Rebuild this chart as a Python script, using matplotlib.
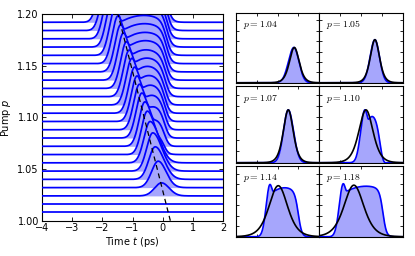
import numpy as np
import matplotlib
matplotlib.use('Agg')
import matplotlib.pyplot as plt

# ---------------- waterfall data (left panel) ----------------
pump_levels = [1.008, 1.016, 1.024, 1.032, 1.040, 1.048, 1.056, 1.064,
               1.072, 1.080, 1.088, 1.096, 1.104, 1.112, 1.120, 1.128,
               1.136, 1.144, 1.152, 1.160, 1.168, 1.176, 1.184, 1.192]
peak_height = [0.0, 0.0, 0.0126, 0.0256, 0.0315, 0.037, 0.040, 0.042,
               0.043, 0.0435, 0.044, 0.044, 0.0445, 0.045, 0.045, 0.045,
               0.0455, 0.0455, 0.046, 0.046, 0.046, 0.046, 0.046, 0.046]
peak_time = [0.0, 0.0, -0.04, -0.15, -0.25, -0.33, -0.42, -0.51,
             -0.59, -0.69, -0.77, -0.85, -0.93, -1.02, -1.11, -1.20,
             -1.30, -1.39, -1.48, -1.57, -1.67, -1.76, -1.85, -1.95]
rise_width = [0.22, 0.22, 0.23, 0.22, 0.21, 0.20, 0.20, 0.19,
              0.19, 0.19, 0.19, 0.19, 0.19, 0.19, 0.19, 0.19,
              0.19, 0.19, 0.19, 0.19, 0.19, 0.19, 0.19, 0.19]
fall_width = [0.25, 0.25, 0.25, 0.26, 0.29, 0.30, 0.30, 0.27,
              0.25, 0.23, 0.21, 0.20, 0.20, 0.20, 0.20, 0.20,
              0.20, 0.20, 0.20, 0.20, 0.20, 0.20, 0.20, 0.20]
plateau_level = [0, 0, 0, 0, 0, 0, 0, 0.45,
                 0.60, 0.70, 0.76, 0.80, 0.82, 0.83, 0.83, 0.83,
                 0.84, 0.84, 0.84, 0.84, 0.84, 0.84, 0.84, 0.84]
hump_time = [0, 0, 0, 0, 0, 0, 0, -0.20,
             -0.25, -0.30, -0.35, -0.40, -0.45, -0.50, -0.52, -0.55,
             -0.57, -0.58, -0.60, -0.62, -0.64, -0.66, -0.68, -0.70]
edge_time = [0, 0, 0, 0, 0, 0, 0, 0.06,
             0.08, 0.09, 0.10, 0.10, 0.10, 0.11, 0.11, 0.12,
             0.12, 0.12, 0.13, 0.13, 0.14, 0.14, 0.15, 0.15]
hump_curv = 0.25

# dashed guide line (pump, time)
guide_pump = [1.00, 1.20]
guide_time = [0.25, -1.48]

# ---------------- individual pulses (right panels) ----------------
panel_pump = [1.04, 1.05, 1.07, 1.10, 1.14, 1.18]
panel_height = [0.68, 0.83, 0.93, 0.93, 0.97, 0.98]
panel_peak_time = [-0.22, -0.33, -0.49, -0.81, -1.37, -1.85]
panel_rise = [0.26, 0.23, 0.23, 0.20, 0.18, 0.19]
panel_fall = [0.24, 0.22, 0.25, 0.20, 0.18, 0.18]
panel_plateau = [0, 0, 0, 0.88, 0.96, 0.98]
panel_hump_time = [0, 0, 0, -0.45, -0.65, -0.75]
panel_edge_time = [0, 0, 0, -0.03, 0.00, 0.06]
panel_curv = [0, 0, 0, 0.35, 0.14, 0.14]
fit_center = [-0.20, -0.33, -0.49, -0.76, -0.97, -1.34]
fit_height = [0.68, 0.83, 0.93, 0.93, 0.97, 0.98]
fit_fwhm = [0.55, 0.52, 0.56, 0.80, 1.05, 1.12]

LINE = '#0000ff'
FILL = '#a6a6fc'


def pulse(t, h, tp, sl, sr, plat, th, te, curv, wf=0.085):
    gl = np.exp(-0.5 * ((t - tp) / sl) ** 2)
    gr = np.exp(-0.5 * ((t - tp) / sr) ** 2)
    g = np.where(t < tp, gl, gr)
    if plat > 0:
        span = max(th - tp, 0.3)
        shape = np.clip(1 - curv * ((t - th) / span) ** 2, 0, None)
        fall = 1.0 / (1.0 + np.exp((t - te) / wf))
        P = plat * shape * fall * np.where(t < tp, gl, 1.0)
        f = (g ** 8 + P ** 8) ** (1 / 8)
    else:
        f = g
    return h * f


fig = plt.figure(figsize=(4.15, 2.56), dpi=100)

# ---- left waterfall ----
ax = fig.add_axes([41.7 / 415, 1 - 220.7 / 256, (223.3 - 41.7) / 415, (220.7 - 14) / 256])
t = np.linspace(-4, 2, 900)
n = len(pump_levels)
for k in range(n - 1, -1, -1):
    b = pump_levels[k]
    y = b + pulse(t, peak_height[k], peak_time[k], rise_width[k], fall_width[k],
                  plateau_level[k], hump_time[k], edge_time[k], hump_curv)
    z = 2 + (n - k) * 0.1
    ax.fill_between(t, b, y, color=FILL, lw=0, zorder=z)
    ax.plot(t, y, color=LINE, lw=1.25, zorder=z + 0.05)
ax.plot(guide_time, guide_pump, color='black', lw=0.9, ls=(0, (4, 3)), zorder=10)
ax.set_xlim(-4, 2)
ax.set_ylim(1.00, 1.20)
ax.set_xticks([-4, -3, -2, -1, 0, 1, 2])
ax.set_yticks([1.00, 1.05, 1.10, 1.15, 1.20])
ax.set_yticklabels(['1.00', '1.05', '1.10', '1.15', '1.20'])
ax.tick_params(direction='in', top=True, right=True, labelsize=7, length=3, width=0.6, pad=2)
ax.set_xlabel('Time $t$ (ps)', fontsize=7, labelpad=1)
ax.set_ylabel('Pump $p$', fontsize=7, labelpad=3)
for s in ax.spines.values():
    s.set_linewidth(0.8)

# ---- right panels ----
tp_ = np.linspace(-3, 1, 500)
col_x = [236 / 415, 319.3 / 415]
col_w = 83.3 / 415
rows = [(12.7, 83.3), (86.0, 163.3), (165.7, 237.3)]
for i in range(6):
    r, c = divmod(i, 2)
    top, bot = rows[r]
    a = fig.add_axes([col_x[c], 1 - bot / 256, col_w, (bot - top) / 256])
    yb = pulse(tp_, panel_height[i], panel_peak_time[i], panel_rise[i], panel_fall[i],
               panel_plateau[i], panel_hump_time[i], panel_edge_time[i], panel_curv[i])
    a.fill_between(tp_, 0, yb, color=FILL, lw=0, zorder=2)
    a.plot(tp_, yb, color=LINE, lw=1.2, zorder=3)
    tau = fit_fwhm[i] / 1.7627
    yf = fit_height[i] / np.cosh((tp_ - fit_center[i]) / tau) ** 2
    a.plot(tp_, yf, color='black', lw=1.2, zorder=4)
    a.set_xlim(-3, 1)
    a.set_ylim(-0.01, 1.35)
    a.set_xticks([-2, -1, 0])
    a.set_yticks([0.2, 0.4, 0.6, 0.8, 1.0, 1.2])
    a.tick_params(direction='in', top=True, right=True, labelbottom=False,
                  labelleft=False, length=2.5, width=0.6)
    for s in a.spines.values():
        s.set_linewidth(0.8)
    a.text(0.08, 0.83, r'$p=%.2f$' % panel_pump[i], transform=a.transAxes,
           fontsize=7, math_fontfamily='cm', va='center', ha='left', zorder=6)

fig.savefig('out.png', dpi=100)
